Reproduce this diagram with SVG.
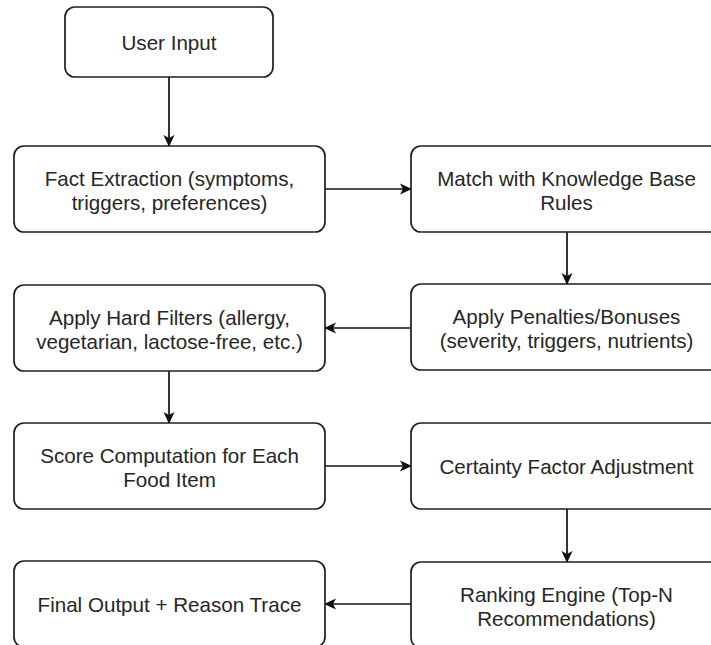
<svg xmlns="http://www.w3.org/2000/svg" width="711" height="645" viewBox="0 0 711 645">
<style>
.box{fill:#fff;stroke:#1f1f1f;stroke-width:1.7}
.lbl{font-family:"Liberation Sans",Arial,sans-serif;font-size:20.6px;fill:#262626;text-anchor:middle}
.edge{fill:none;stroke:#111;stroke-width:1.7}
</style>
<defs>
<marker id="arr" markerUnits="userSpaceOnUse" markerWidth="14" markerHeight="12" refX="11" refY="6" orient="auto">
<path d="M0,0.5 L12,6 L0,11.5 L3,6 z" fill="#111"/>
</marker>
</defs>
<rect width="711" height="645" fill="#fff"/>
<g id="connectors">
<line class="edge" x1="169" y1="77" x2="169" y2="146" marker-end="url(#arr)"/>
<line class="edge" x1="325" y1="189" x2="411" y2="189" marker-end="url(#arr)"/>
<line class="edge" x1="567" y1="232" x2="567" y2="284" marker-end="url(#arr)"/>
<line class="edge" x1="411" y1="328" x2="325" y2="328" marker-end="url(#arr)"/>
<line class="edge" x1="169" y1="371" x2="169" y2="423" marker-end="url(#arr)"/>
<line class="edge" x1="325" y1="466" x2="411" y2="466" marker-end="url(#arr)"/>
<line class="edge" x1="567" y1="509" x2="567" y2="562" marker-end="url(#arr)"/>
<line class="edge" x1="411" y1="604" x2="325" y2="604" marker-end="url(#arr)"/>
</g>
<g id="user-input">
<rect class="box" x="65" y="7" width="208" height="70" rx="10"/>
<text class="lbl" x="169" y="49.5">User Input</text>
</g>
<g id="fact-extraction">
<rect class="box" x="14" y="146" width="311" height="86" rx="10"/>
<text class="lbl" x="169.5" y="185.5">Fact Extraction (symptoms,</text>
<text class="lbl" x="169.5" y="210">triggers, preferences)</text>
</g>
<g id="match-kb">
<rect class="box" x="411" y="146" width="311" height="86" rx="10"/>
<text class="lbl" x="566.5" y="185.5">Match with Knowledge Base</text>
<text class="lbl" x="566.5" y="210">Rules</text>
</g>
<g id="apply-penalties">
<rect class="box" x="411" y="284" width="311" height="86" rx="10"/>
<text class="lbl" x="566.5" y="323.5">Apply Penalties/Bonuses</text>
<text class="lbl" x="566.5" y="348">(severity, triggers, nutrients)</text>
</g>
<g id="hard-filters">
<rect class="box" x="14" y="285" width="311" height="86" rx="10"/>
<text class="lbl" x="169.5" y="324.5">Apply Hard Filters (allergy,</text>
<text class="lbl" x="169.5" y="349">vegetarian, lactose-free, etc.)</text>
</g>
<g id="score-computation">
<rect class="box" x="14" y="423" width="311" height="86" rx="10"/>
<text class="lbl" x="169.5" y="462.5">Score Computation for Each</text>
<text class="lbl" x="169.5" y="487">Food Item</text>
</g>
<g id="certainty-factor">
<rect class="box" x="411" y="423" width="311" height="86" rx="10"/>
<text class="lbl" x="566.5" y="473.5">Certainty Factor Adjustment</text>
</g>
<g id="ranking-engine">
<rect class="box" x="411" y="562" width="311" height="86" rx="10"/>
<text class="lbl" x="566.5" y="601.5">Ranking Engine (Top-N</text>
<text class="lbl" x="566.5" y="626">Recommendations)</text>
</g>
<g id="final-output">
<rect class="box" x="14" y="561" width="311" height="86" rx="10"/>
<text class="lbl" x="169.5" y="611.5">Final Output + Reason Trace</text>
</g>
</svg>
